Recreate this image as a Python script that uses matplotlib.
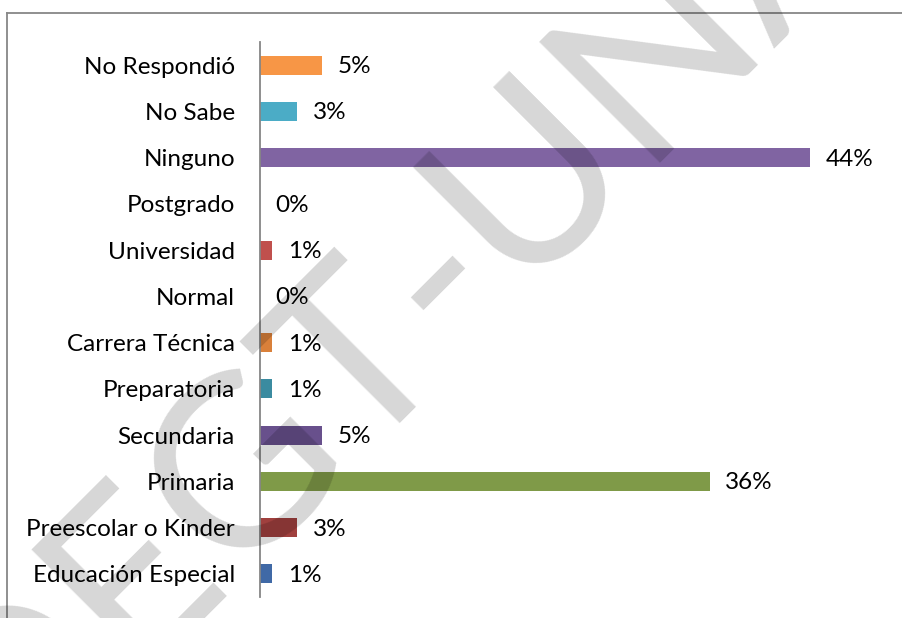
import matplotlib.pyplot as plt
from matplotlib.lines import Line2D

# categories as shown, top to bottom
categories = ['No Respondió', 'No Sabe', 'Ninguno', 'Postgrado', 'Universidad', 'Normal',
              'Carrera Técnica', 'Preparatoria', 'Secundaria', 'Primaria',
              'Preescolar o Kínder', 'Educación Especial']
values = [5, 3, 44, 0, 1, 0, 1, 1, 5, 36, 3, 1]
colors = ['#F79646', '#4BACC6', '#8064A2', '#9BBB59', '#C0504D', '#4F81BD',
          '#D9803A', '#3B8BA0', '#68508C', '#7F9A48', '#A0403E', '#4069A6']
watermark = 'DEGT-UNAM'

plt.rcParams['font.family'] = ['Lato', 'DejaVu Sans']

fig = plt.figure(figsize=(9.02, 6.18), dpi=100)
ax = fig.add_axes([0.2882, 0.034, 0.6929, 0.898])

ypos = range(len(categories))
ax.barh(ypos, values, height=0.41, color=colors, zorder=2)
ax.set_ylim(-0.5, len(categories) - 0.5)
ax.invert_yaxis()
ax.set_xlim(0, 50)

for y, v in zip(ypos, values):
    ax.annotate(f'{v}%', xy=(v, y), xytext=(11, -1), textcoords='offset points',
                ha='left', va='center', fontsize=17.5, color='black')

ax.set_yticks(list(ypos))
ax.set_yticklabels(categories, fontsize=17.5)
ax.tick_params(axis='y', length=0, pad=18)
ax.set_xticks([])
for s in ['top', 'right', 'bottom']:
    ax.spines[s].set_visible(False)
ax.spines['left'].set_color('#868686')
ax.spines['left'].set_linewidth(1.3)

# outer chart frame (only top and left edges are inside the image)
fig.add_artist(Line2D([7 / 902, 1.0], [1 - 13 / 618, 1 - 13 / 618], color='#878787', lw=1.3))
fig.add_artist(Line2D([7 / 902, 7 / 902], [0, 1 - 13 / 618], color='#878787', lw=1.3))

# diagonal watermark
fig.text(0.525, 0.623, watermark, fontsize=172, color='black', alpha=0.16,
         rotation=45, rotation_mode='anchor', ha='center', va='center', zorder=10)

fig.savefig('out.png', dpi=100)
